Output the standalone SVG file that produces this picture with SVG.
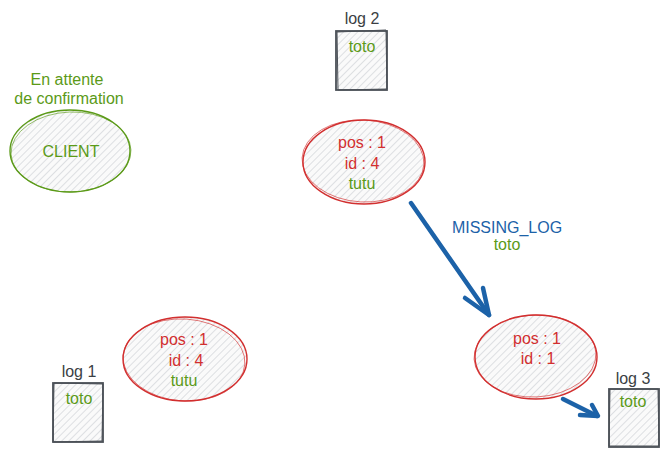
<svg xmlns="http://www.w3.org/2000/svg" width="668" height="458" viewBox="0 0 668 458">
<defs>
<pattern id="hatch" width="5" height="5" patternUnits="userSpaceOnUse" patternTransform="rotate(45)">
<rect width="5" height="5" fill="#fafafa"/>
<line x1="0" y1="0" x2="0" y2="5" stroke="#cdd1d6" stroke-width="1.3"/>
</pattern>
<style>
text{font-family:"Liberation Sans",Arial,sans-serif;font-size:16px;text-anchor:middle}
.g{fill:#5b9a18}
.r{fill:#d22f2f}
.b{fill:#1c62a8}
.k{fill:#3b3f44}
.ell{fill:url(#hatch);stroke-width:1.4}
.ell2{fill:none;stroke-width:0.9;opacity:0.7}
.box{fill:url(#hatch);stroke:#4b5057;stroke-width:1.8}
.box2{fill:none;stroke:#4b5057;stroke-width:1}
.arr{fill:none;stroke:#1c62a8;stroke-width:4.5;stroke-linecap:round;stroke-linejoin:round}
</style>
</defs>
<rect width="668" height="458" fill="#ffffff"/>

<g id="client">
<text class="g" x="67" y="85">En attente</text>
<text class="g" x="69" y="104">de confirmation</text>
<ellipse class="ell" cx="70" cy="151" rx="60" ry="41" stroke="#5b9a18"/>
<ellipse class="ell2" cx="71" cy="152" rx="60" ry="40" stroke="#5b9a18" transform="rotate(-2 71 152)"/>
<text class="g" x="71" y="157">CLIENT</text>
</g>

<g id="log2">
<text class="k" x="362" y="24">log 2</text>
<rect class="box" x="336" y="31" width="51" height="59"/>
<path class="box2" d="M337 32 L386 30 L387 89 L338 90 Z"/>
<text class="g" x="362" y="52">toto</text>
</g>

<g id="node-top">
<ellipse class="ell" cx="364" cy="162" rx="61" ry="42" stroke="#d22f2f"/>
<ellipse class="ell2" cx="363" cy="161" rx="61" ry="41" stroke="#d22f2f" transform="rotate(3 363 161)"/>
<text class="r" x="362" y="148">pos : 1</text>
<text class="r" x="362" y="169">id : 4</text>
<text class="g" x="362" y="189">tutu</text>
</g>

<g id="node-right">
<ellipse class="ell" cx="536" cy="357" rx="61" ry="42" stroke="#d22f2f"/>
<ellipse class="ell2" cx="535" cy="356" rx="61" ry="41" stroke="#d22f2f" transform="rotate(-3 535 356)"/>
<text class="r" x="537" y="344">pos : 1</text>
<text class="r" x="538" y="364">id : 1</text>
</g>

<g id="node-left">
<ellipse class="ell" cx="185" cy="359" rx="62" ry="42" stroke="#d22f2f"/>
<ellipse class="ell2" cx="184" cy="360" rx="61" ry="41" stroke="#d22f2f" transform="rotate(4 184 360)"/>
<text class="r" x="184" y="345">pos : 1</text>
<text class="r" x="186" y="366">id : 4</text>
<text class="g" x="184" y="386">tutu</text>
</g>

<g id="log1">
<text class="k" x="79" y="377">log 1</text>
<rect class="box" x="53" y="383" width="50" height="59"/>
<path class="box2" d="M54 383 L103 384 L102 441 L53 442 Z"/>
<text class="g" x="79" y="404">toto</text>
</g>

<g id="log3">
<text class="k" x="633" y="384">log 3</text>
<rect class="box" x="609" y="389" width="50" height="58"/>
<path class="box2" d="M610 389 L658 389 L659 446 L609 446 Z"/>
<text class="g" x="633" y="407">toto</text>
</g>

<g id="connectors">
<path class="arr" d="M411 203 L489 315"/>
<path class="arr" d="M465 298 L489 315 L483 288"/>
<text class="b" x="507" y="233">MISSING_LOG</text>
<text class="g" x="507" y="250">toto</text>
<path class="arr" d="M563 399 L597 416"/>
<path class="arr" d="M580 415 L598 416 L592 405"/>
</g>
</svg>
